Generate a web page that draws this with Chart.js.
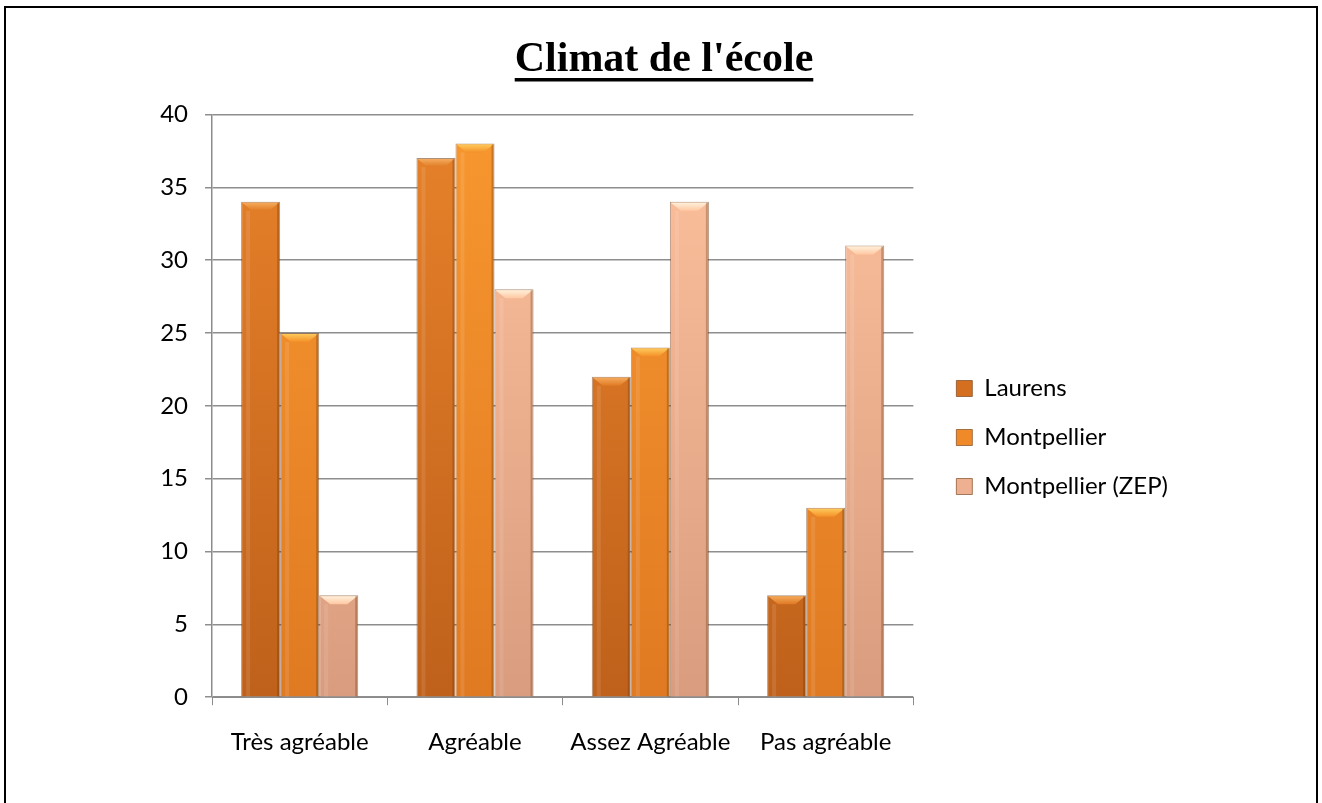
<!DOCTYPE html>
<html>
<head>
<meta charset="utf-8">
<script src="https://cdn.jsdelivr.net/npm/chart.js@4.4.0/dist/chart.umd.min.js"></script>
<style>
  html, body { margin: 0; padding: 0; background: #fff; }
</style>
</head>
<body>
<canvas id="chart" width="1322" height="803"></canvas>
<script>
// Data
const categories = ["Très agréable", "Agréable", "Assez Agréable", "Pas agréable"];
const seriesNames = ["Laurens", "Montpellier", "Montpellier (ZEP)"];
const laurens = [34, 37, 22, 7];
const montpellier = [25, 38, 24, 13];
const montpellierZep = [7, 28, 34, 31];

// colours: [top, bottom, bevel light, bevel dark, legend]
const palette = [
  ["#e8822a", "#bf611b", "#f7b062", "#e07a24", "#d46f20"],
  ["#f8972f", "#e07a22", "#ffd060", "#f49028", "#f08a28"],
  ["#ffc29e", "#d99c7e", "#fff4e0", "#ffc8a2", "#eeb090"]
];

const FONT = "Lato";
const FONT_SIZE = 24;
const LEGEND_PAD = 25;
const LEGEND_BOX = 16;

function barFill(idx) {
  return function (context) {
    const chart = context.chart;
    const area = chart.chartArea;
    if (!area) return palette[idx][1];
    const g = chart.ctx.createLinearGradient(0, area.top, 0, area.bottom);
    g.addColorStop(0, palette[idx][0]);
    g.addColorStop(1, palette[idx][1]);
    return g;
  };
}

// draws the bevelled top and a soft right shadow on each bar
const bevelPlugin = {
  id: "bevel",
  afterDatasetsDraw(chart) {
    const c = chart.ctx;
    chart.data.datasets.forEach((ds, i) => {
      const meta = chart.getDatasetMeta(i);
      meta.data.forEach(bar => {
        const p = bar.getProps(["x", "y", "width", "base"], true);
        const l = p.x - p.width / 2, r = p.x + p.width / 2;
        const d = 9, ins = 11;
        c.save();
        const g = c.createLinearGradient(0, p.y, 0, p.y + d);
        g.addColorStop(0, palette[i][2]);
        g.addColorStop(1, palette[i][3]);
        c.beginPath();
        c.moveTo(l + 1, p.y + 1);
        c.lineTo(r - 1, p.y + 1);
        c.lineTo(r - ins, p.y + d);
        c.lineTo(l + ins, p.y + d);
        c.closePath();
        c.fillStyle = g;
        c.fill();
        c.fillStyle = "rgba(90,45,10,0.30)";
        c.fillRect(r - 3, p.y + 1, 2, p.base - p.y - 1);
        c.fillStyle = "rgba(255,255,255,0.10)";
        c.fillRect(l + 5, p.y + d, 4, p.base - p.y - d);
        c.restore();
      });
    });
  }
};

// underline under the title + page frame
const decoPlugin = {
  id: "deco",
  afterDraw(chart) {
    const c = chart.ctx;
    const tb = chart.titleBlock;
    c.save();
    c.font = "bold 42px 'Liberation Serif'";
    const w = c.measureText(chart.options.plugins.title.text).width;
    const cx = (tb.left + tb.right) / 2;
    c.fillStyle = "#000";
    c.fillRect(cx - w / 2, 78, w, 3.5);
    c.strokeStyle = "#000";
    c.lineWidth = 2;
    c.strokeRect(5, 7, 1312, 820);
    c.restore();
  }
};

function draw() {
  const ctx = document.getElementById("chart").getContext("2d");

  // work out the legend width so that the plot area ends at x=913 and the legend starts at 931
  ctx.font = FONT_SIZE + "px " + FONT;
  const maxText = Math.max(...seriesNames.map(s => ctx.measureText(s).width));
  const legendW = LEGEND_PAD + LEGEND_BOX + FONT_SIZE / 2 + maxText + 10;
  const padRight = Math.round(1322 - 931 - legendW);
  const padLeft = padRight + 6;

  new Chart(ctx, {
    type: "bar",
    data: {
      labels: categories,
      datasets: [
        { label: seriesNames[0], data: laurens, backgroundColor: barFill(0) },
        { label: seriesNames[1], data: montpellier, backgroundColor: barFill(1) },
        { label: seriesNames[2], data: montpellierZep, backgroundColor: barFill(2) }
      ]
    },
    options: {
      responsive: false,
      animation: false,
      layout: { padding: { left: padLeft, right: padRight, top: 0, bottom: 23 } },
      datasets: {
        bar: {
          categoryPercentage: 0.668,
          barPercentage: 1,
          borderWidth: 1,
          borderColor: "rgba(110,55,15,0.55)"
        }
      },
      scales: {
        x: {
          grid: { display: true, drawOnChartArea: false, drawTicks: true, tickLength: 8, color: "#8c8c8c" },
          border: { display: true, color: "#8c8c8c" },
          ticks: {
            color: "#000",
            padding: 23,
            autoSkip: false,
            maxRotation: 0,
            minRotation: 0,
            font: { family: FONT, size: FONT_SIZE }
          }
        },
        y: {
          min: 0,
          max: 40,
          ticks: { stepSize: 5, color: "#000", padding: 17, font: { family: FONT, size: FONT_SIZE } },
          grid: { color: "#8e8e8e", lineWidth: 1.5, tickLength: 7 },
          border: { display: true, color: "#8c8c8c", width: 1.5 },
          afterFit(scale) { scale.width = 212 - padLeft; }
        },
        spacer: {
          position: "right",
          display: true,
          grid: { display: false },
          border: { display: false },
          ticks: { display: false },
          afterFit(scale) { scale.width = 18; }
        }
      },
      plugins: {
        title: {
          display: true,
          text: "Climat de l'école",
          color: "#000",
          font: { family: "Liberation Serif", size: 42, weight: "bold", lineHeight: 1.2 },
          padding: { top: 35, bottom: 29 }
        },
        legend: {
          position: "right",
          align: "center",
          maxWidth: 400,
          title: { display: true, text: " ", font: { size: 10 }, padding: { top: 42, bottom: 41 } },
          labels: {
            color: "#000",
            boxWidth: LEGEND_BOX,
            boxHeight: LEGEND_BOX,
            padding: LEGEND_PAD,
            font: { family: FONT, size: FONT_SIZE },
            generateLabels(chart) {
              const items = Chart.defaults.plugins.legend.labels.generateLabels(chart);
              items.forEach((it, i) => {
                it.fillStyle = palette[i][4];
                it.strokeStyle = "rgba(110,55,15,0.6)";
                it.lineWidth = 1;
              });
              return items;
            }
          }
        },
        tooltip: { enabled: false }
      }
    },
    plugins: [bevelPlugin, decoPlugin]
  });
}

Promise.all([
  document.fonts.load(FONT_SIZE + "px " + FONT),
  document.fonts.load("bold 42px 'Liberation Serif'")
]).then(draw, draw);
</script>
</body>
</html>
